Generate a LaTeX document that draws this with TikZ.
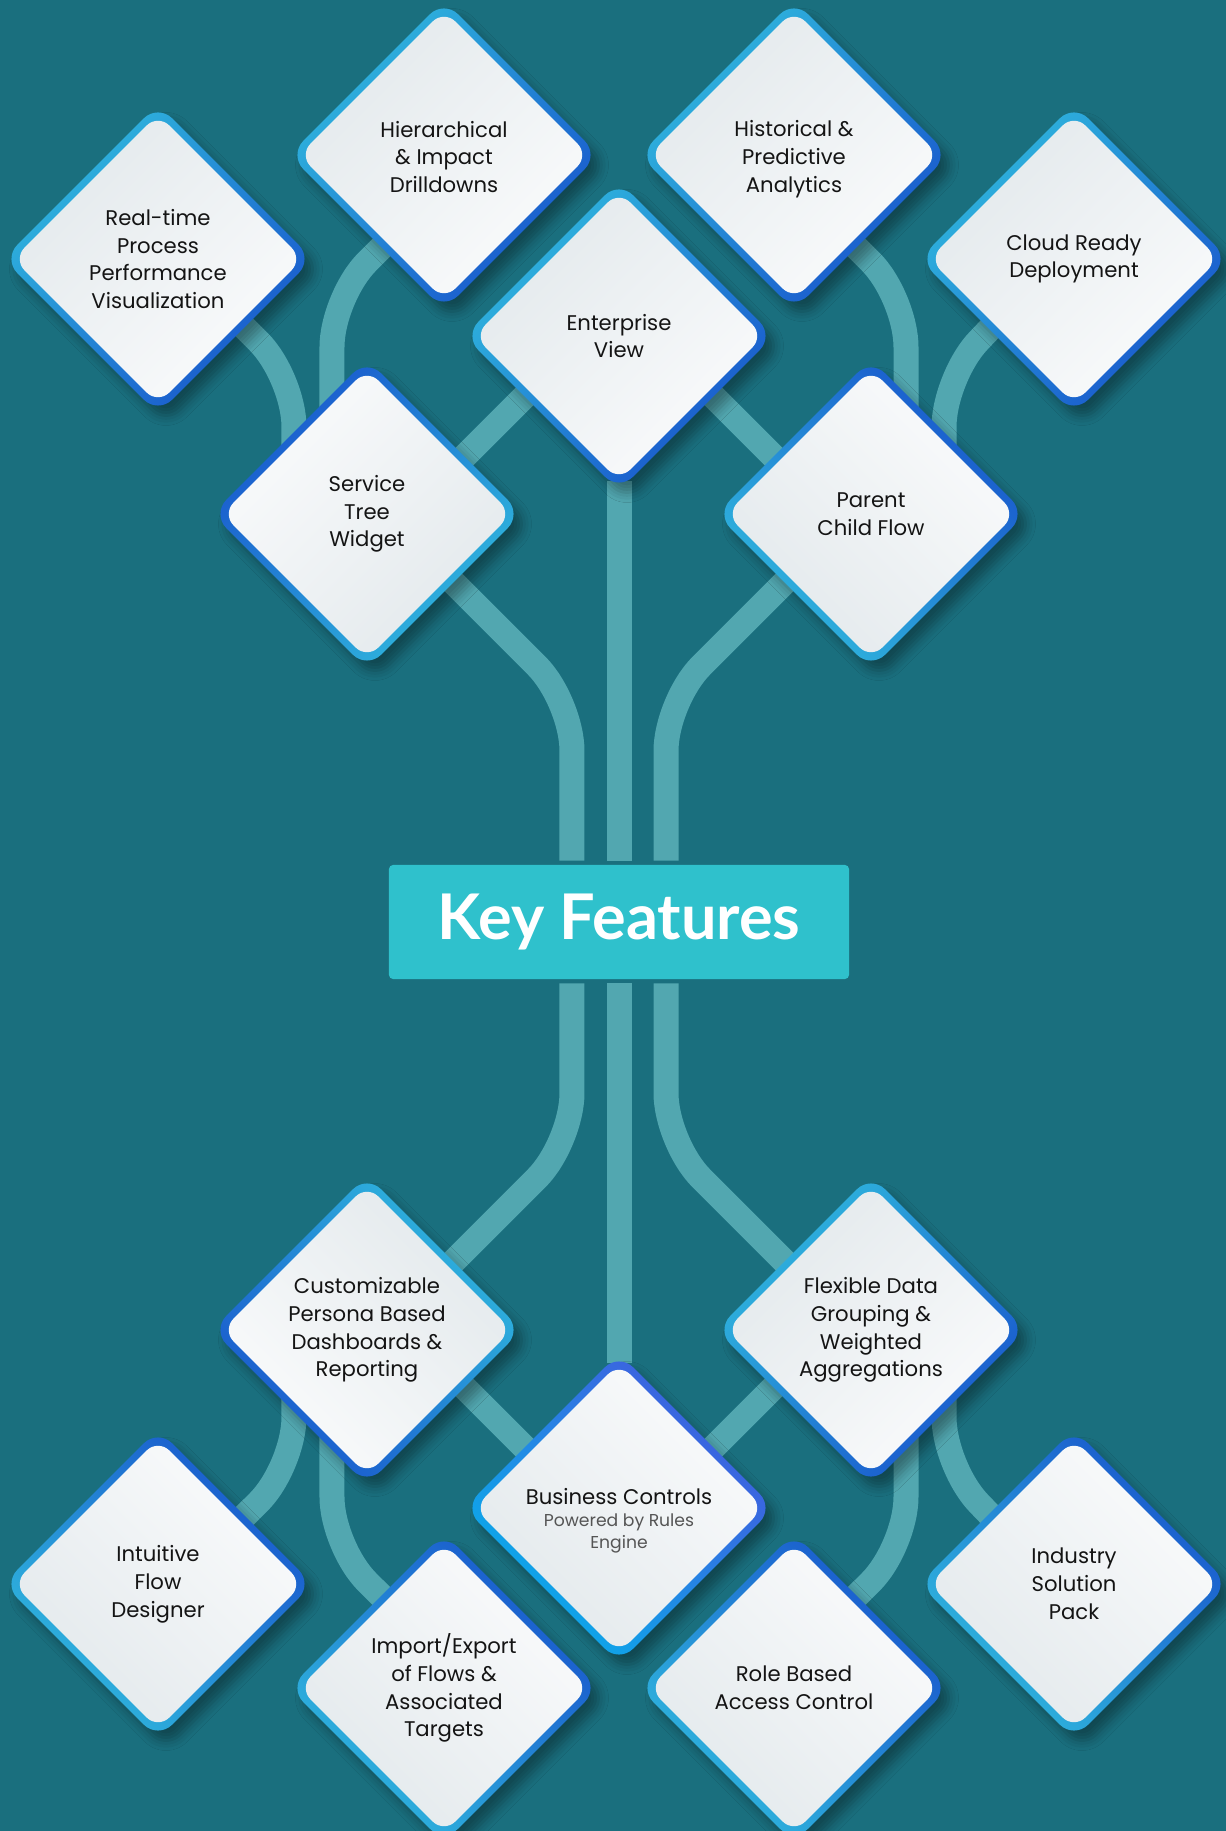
\documentclass[tikz,border=0pt]{standalone}
\usepackage{fontspec}
\setmainfont{Poppins}
\newfontfamily\titlefont{Lato}
\usetikzlibrary{shapes.geometric,backgrounds,shadows.blur}

\definecolor{kbg}{RGB}{26,111,126}
\definecolor{klink}{RGB}{82,167,176}
\definecolor{kcyan}{RGB}{48,186,222}
\definecolor{kblue}{RGB}{24,84,204}
\definecolor{bccyan}{RGB}{8,174,234}
\definecolor{bcblue}{RGB}{66,90,222}
\definecolor{kgrey}{RGB}{227,233,236}
\definecolor{kwhite}{RGB}{250,251,252}
\definecolor{ktitle}{RGB}{47,193,204}
\definecolor{ksub}{RGB}{85,85,85}

\tikzset{
  featb/.style={diamond, aspect=1, inner sep=0pt,
    minimum width=155pt, minimum height=155pt, rounded corners=10pt,
    top color=kcyan, bottom color=kblue, shading angle=#1,
    blur shadow={shadow xshift=4pt, shadow yshift=-5pt,
      shadow blur radius=5pt, shadow opacity=35}},
  feat/.style={diamond, aspect=1, inner sep=0pt,
    minimum width=145pt, minimum height=145pt, rounded corners=8pt,
    top color=kgrey, bottom color=kwhite, shading angle=#1,
    align=center, text=black!92, font=\fontsize{10.6}{13.9}\selectfont},
  link/.style={draw=klink, line width=12.5pt, rounded corners=25pt},
}

% one feature: border diamond (name-b) under the face diamond (name)
\newcommand\feature[5][]{%
  \node[featb=#4, #1] (#2-b) at #3 {};
  \node[feat=#4] (#2) at #3 {#5};
}
\newcommand\subline[1]{{\color{ksub}\fontsize{8.6}{10.8}\selectfont #1}}

\begin{document}
\begin{tikzpicture}[x=0.5pt, y=0.5pt]

\useasboundingbox (-619,-909) rectangle (607,922);

%% title
\node[fill=ktitle, rounded corners=2pt, minimum width=230pt, minimum height=57pt,
  text=white, font=\titlefont\bfseries\fontsize{31.5}{36}\selectfont]
  (kf) at (0,0) {Key Features};

%% upper half
\feature{rt}{(-461,663)}{45}{Real-time\\Process\\Performance\\Visualization}
\feature{hi}{(-175,767)}{45}{\rule{0pt}{10pt}Hierarchical\\\& Impact\\Drilldowns}
\feature{hp}{(175,767)}{45}{\rule{0pt}{12.5pt}Historical \&\\Predictive\\Analytics}
\feature{cr}{(455,663)}{45}{Cloud Ready\\Deployment}
\feature{ev}{(0,586)}{45}{Enterprise\\View}
\feature{st}{(-252,408)}{225}{Service\\Tree\\Widget}
\feature{pc}{(252,408)}{135}{Parent\\Child Flow}

%% lower half
\feature{cu}{(-252,-408)}{315}{Customizable\\Persona Based\\Dashboards \&\\Reporting}
\feature{fd}{(252,-408)}{45}{Flexible Data\\Grouping \&\\Weighted\\Aggregations}
\feature[top color=bccyan, bottom color=bcblue, shading angle=135]{bc}{(0,-586)}{135}%
  {\rule{0pt}{21pt}Business Controls\\[-3pt]\subline{Powered by Rules}\\[-3pt]\subline{Engine}}
\feature{ifd}{(-461,-662)}{135}{Intuitive\\Flow\\Designer}
\feature{ie}{(-175,-766)}{135}{Import/Export\\of Flows \&\\Associated\\Targets}
\feature{rb}{(175,-766)}{135}{Role Based\\Access Control}
\feature{is}{(455,-662)}{135}{Industry\\Solution\\Pack}

\begin{scope}[on background layer]
\fill[kbg] (-619,-909) rectangle (607,922);

%% upper links
\draw[link] (ev) -- ([yshift=2pt]kf.north);
\draw[link] ([xshift=-23.5pt,yshift=2pt]kf.north) -- (-47,221) -- ([shift={(9,9)}]st.center);
\draw[link] ([xshift=23.5pt,yshift=2pt]kf.north) -- (47,221) -- ([shift={(-9,9)}]pc.center);
\draw[link] ([shift={(20,-20)}]st.center) -- ([shift={(-17,17)}]ev.center);
\draw[link] ([shift={(-20,-20)}]pc.center) -- ([shift={(17,17)}]ev.center);
\draw[link] ([xshift=-36.5pt]st.center) -- (-325,545) -- ([shift={(9,9)}]rt.center);
\draw[link] ([xshift=-17.5pt]st.center) -- (-287,625) -- ([shift={(15,-15)}]hi.center);
\draw[link] ([xshift=17.5pt]pc.center) -- (287,625) -- ([shift={(-15,-15)}]hp.center);
\draw[link] ([xshift=36.5pt]pc.center) -- (325,545) -- ([shift={(-9,9)}]cr.center);

%% lower links
\draw[link] ([yshift=-2pt]kf.south) -- (bc);
\draw[link] ([xshift=-23.5pt,yshift=-2pt]kf.south) -- (-47,-221) -- ([shift={(9,-9)}]cu.center);
\draw[link] ([xshift=23.5pt,yshift=-2pt]kf.south) -- (47,-221) -- ([shift={(-9,-9)}]fd.center);
\draw[link] ([shift={(20,20)}]cu.center) -- ([shift={(-17,-17)}]bc.center);
\draw[link] ([shift={(-20,20)}]fd.center) -- ([shift={(17,-17)}]bc.center);
\draw[link] ([xshift=-36.5pt]cu.center) -- (-325,-545) -- ([shift={(9,-9)}]ifd.center);
\draw[link] ([xshift=-17.5pt]cu.center) -- (-287,-625) -- ([shift={(15,15)}]ie.center);
\draw[link] ([xshift=17.5pt]fd.center) -- (287,-625) -- ([shift={(-15,15)}]rb.center);
\draw[link] ([xshift=36.5pt]fd.center) -- (325,-545) -- ([shift={(-9,-9)}]is.center);
\end{scope}

\end{tikzpicture}
\end{document}
